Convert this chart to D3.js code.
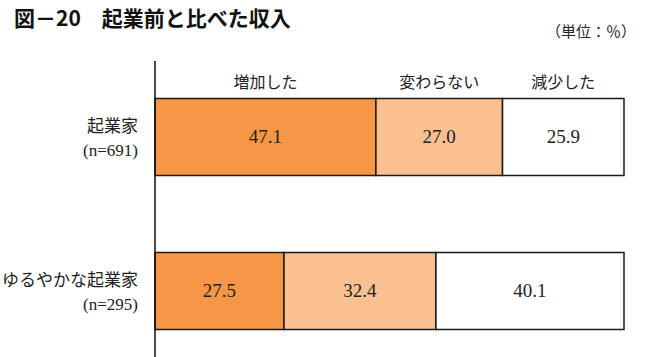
<!DOCTYPE html>
<html><head><meta charset="utf-8">
<script src="https://cdn.jsdelivr.net/npm/d3@7"></script>
<style>body{margin:0;background:#fff;}svg{display:block;}</style>
</head><body>
<svg id="c" width="653" height="357"></svg>
<script>
const categories = ["起業家", "ゆるやかな起業家"];
const sampleLabels = ["(n=691)", "(n=295)"];
const seriesNames = ["増加した", "変わらない", "減少した"];
const increased = [47.1, 27.5];
const unchanged = [27.0, 32.4];
const decreased = [25.9, 40.1];
const colors = ["#F79646", "#FAC090", "#FFFFFF"];

const svg = d3.select("#c");
const x = d3.scaleLinear().domain([0,100]).range([155, 624]);
const y = d3.scaleBand().domain(categories).range([60, 368]).paddingInner(0.5).paddingOuter(0.25);

svg.append("text").attr("x",14).attr("y",26)
  .attr("font-family","'Noto Sans CJK JP'").attr("font-weight","bold").attr("font-size",21)
  .attr("fill","#111").text("図－20　起業前と比べた収入");
svg.append("text").attr("x",636).attr("y",37).attr("text-anchor","end")
  .attr("font-family","'Noto Sans CJK JP'").attr("font-size",15).attr("fill","#222").text("（単位：％）");

const rows = categories.map((c,i)=>{
  const vals=[increased[i],unchanged[i],decreased[i]];
  let acc=0;
  return vals.map((v,j)=>{const s={cat:c,j,v,x0:acc,x1:acc+v};acc+=v;return s;});
});
const segs = rows.flat();
svg.selectAll("rect.seg").data(segs).join("rect")
  .attr("x",d=>x(d.x0)).attr("y",d=>y(d.cat)).attr("width",d=>x(d.x1)-x(d.x0)).attr("height",y.bandwidth())
  .attr("fill",d=>colors[d.j]).attr("stroke","#1a1a1a").attr("stroke-width",1.5);
svg.selectAll("text.val").data(segs).join("text")
  .attr("x",d=>(x(d.x0)+x(d.x1))/2).attr("y",d=>y(d.cat)+y.bandwidth()/2+6)
  .attr("text-anchor","middle").attr("font-family","'Liberation Serif'").attr("font-size",19).attr("fill","#222")
  .text(d=>d.v.toFixed(1));

const first = rows[0];
svg.selectAll("text.hdr").data(first).join("text")
  .attr("x",d=>(x(d.x0)+x(d.x1))/2).attr("y",y(categories[0])-11)
  .attr("text-anchor","middle").attr("font-family","'Noto Sans CJK JP'").attr("font-size",16).attr("fill","#222")
  .text(d=>seriesNames[d.j]);

categories.forEach((c,i)=>{
  const cy=y(c)+y.bandwidth()/2;
  svg.append("text").attr("x",138).attr("y",cy-5).attr("text-anchor","end")
    .attr("font-family","'Noto Sans CJK JP'").attr("font-size",17).attr("fill","#222").text(c);
  svg.append("text").attr("x",138).attr("y",cy+19).attr("text-anchor","end")
    .attr("font-family","'Liberation Serif'").attr("font-size",17).attr("fill","#222").text(sampleLabels[i]);
});

svg.append("line").attr("x1",x(0)).attr("x2",x(0)).attr("y1",61).attr("y2",357)
  .attr("stroke","#111").attr("stroke-width",1.5);
</script>
</body></html>
